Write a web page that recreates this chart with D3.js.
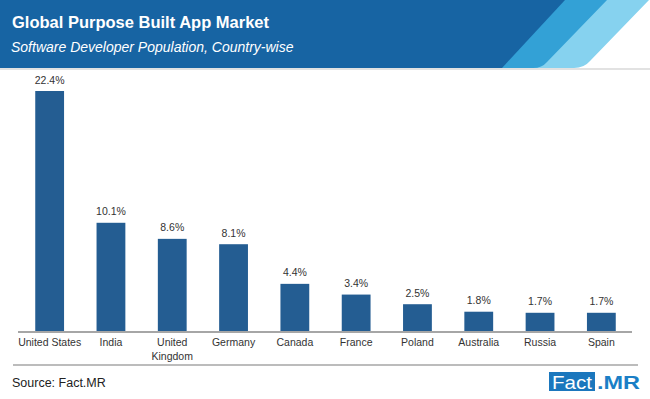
<!DOCTYPE html>
<html>
<head>
<meta charset="utf-8">
<script src="https://cdn.jsdelivr.net/npm/d3@7"></script>
<style>
  body { margin: 0; background: #fff; }
  svg { display: block; font-family: "Liberation Sans", Arial, sans-serif; }
</style>
</head>
<body>
<div id="chart"></div>
<script>
// data
const countries = ["United States", "India", "United Kingdom", "Germany", "Canada",
  "France", "Poland", "Australia", "Russia", "Spain"];
const shares = [22.4, 10.1, 8.6, 8.1, 4.4, 3.4, 2.5, 1.8, 1.7, 1.7];
const labelLines = [["United States"], ["India"], ["United", "Kingdom"], ["Germany"],
  ["Canada"], ["France"], ["Poland"], ["Australia"], ["Russia"], ["Spain"]];

const width = 650, height = 399;
const barColor = "#245d92";

const svg = d3.select("#chart").append("svg")
  .attr("width", width)
  .attr("height", height);

// header band with diagonal stripes
const header = svg.append("g").attr("class", "header");
header.append("rect").attr("x", 0).attr("y", 68).attr("width", width).attr("height", 2)
  .attr("fill", "#e2e2e2");
header.append("path")
  .attr("d", "M0,0 H649 L590,61 Q584,68 574,68 H0 Z")
  .attr("fill", "#86d2ef");
header.append("path")
  .attr("d", "M0,0 H607 L547,62 Q542,68 533,68 H0 Z")
  .attr("fill", "#33a1d6");
header.append("path")
  .attr("d", "M0,0 H565 L502,68 H0 Z")
  .attr("fill", "#1764a3");

header.append("text")
  .attr("x", 12).attr("y", 28)
  .attr("fill", "#fff")
  .style("font-size", "16.5px")
  .style("font-weight", "700")
  .text("Global Purpose Built App Market");

header.append("text")
  .attr("x", 11).attr("y", 52)
  .attr("fill", "#fff")
  .style("font-size", "14px")
  .style("font-style", "italic")
  .text("Software Developer Population, Country-wise");

// scales
const x = d3.scaleBand()
  .domain(countries)
  .range([19, 632])
  .paddingInner(0.53)
  .paddingOuter(0.265);

const y = d3.scaleLinear()
  .domain([0, 22.4])
  .range([331, 91]);

const plot = svg.append("g").attr("class", "plot");

plot.selectAll("rect.bar")
  .data(shares)
  .enter()
  .append("rect")
  .attr("class", "bar")
  .attr("x", (d, i) => x(countries[i]))
  .attr("y", d => y(d))
  .attr("width", x.bandwidth())
  .attr("height", d => y(0) - y(d))
  .attr("fill", barColor);

plot.selectAll("text.value")
  .data(shares)
  .enter()
  .append("text")
  .attr("class", "value")
  .attr("x", (d, i) => x(countries[i]) + x.bandwidth() / 2)
  .attr("y", d => y(d) - 7.5)
  .attr("text-anchor", "middle")
  .attr("fill", "#333")
  .style("font-size", "10.5px")
  .text(d => d.toFixed(1) + "%");

// x axis line
plot.append("line")
  .attr("x1", 18).attr("x2", 632)
  .attr("y1", y(0) + 1).attr("y2", y(0) + 1)
  .attr("stroke", "#a6a6a6")
  .attr("stroke-width", 2);

const cat = plot.selectAll("text.cat")
  .data(labelLines)
  .enter()
  .append("text")
  .attr("class", "cat")
  .attr("x", (d, i) => x(countries[i]) + x.bandwidth() / 2)
  .attr("y", 346)
  .attr("text-anchor", "middle")
  .attr("fill", "#333")
  .style("font-size", "10.5px");

cat.selectAll("tspan")
  .data(d => d)
  .enter()
  .append("tspan")
  .attr("x", function () { return d3.select(this.parentNode).attr("x"); })
  .attr("dy", (d, i) => i === 0 ? 0 : 14)
  .text(d => d);

// footer
svg.append("line")
  .attr("x1", 13).attr("x2", 638)
  .attr("y1", 365).attr("y2", 365)
  .attr("stroke", "#a6a6a6")
  .attr("stroke-width", 1.5);

svg.append("text")
  .attr("x", 12).attr("y", 387)
  .attr("fill", "#222")
  .style("font-size", "12.5px")
  .text("Source: Fact.MR");

// Fact.MR logo
const logo = svg.append("g").attr("class", "logo");
logo.append("rect")
  .attr("x", 549).attr("y", 372)
  .attr("width", 46).attr("height", 19)
  .attr("fill", "#1b77bd");
logo.append("text")
  .attr("x", 572).attr("y", 389)
  .attr("text-anchor", "middle")
  .attr("fill", "#fff")
  .style("font-size", "19px")
  .attr("textLength", 40)
  .attr("lengthAdjust", "spacingAndGlyphs")
  .text("Fact");
logo.append("text")
  .attr("x", 597).attr("y", 389)
  .attr("fill", "#1b7fc6")
  .style("font-size", "19px")
  .style("font-weight", "700")
  .attr("textLength", 43)
  .attr("lengthAdjust", "spacingAndGlyphs")
  .text(".MR");
</script>
</body>
</html>
